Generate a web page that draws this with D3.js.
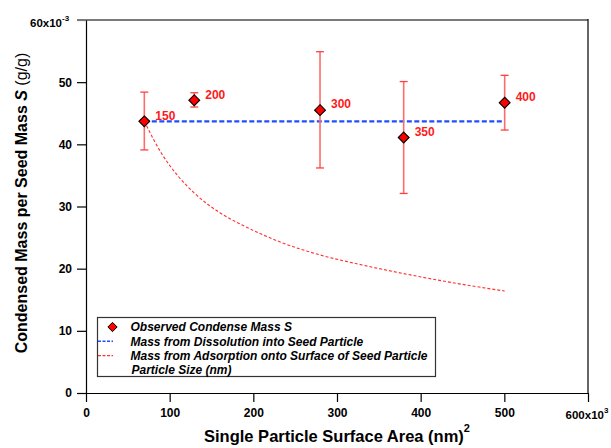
<!DOCTYPE html>
<html>
<head>
<meta charset="utf-8">
<script src="https://cdn.jsdelivr.net/npm/d3@7"></script>
<style>
  html, body { margin: 0; padding: 0; background: #fff; }
  svg { display: block; font-family: "Liberation Sans", Arial, Helvetica, sans-serif; }
</style>
</head>
<body>
<svg id="chart" width="611" height="448"></svg>
<script>
// Seed particle sizes (nm) and single-particle surface area (x10^3 nm^2)
const particleSizes = [150, 200, 300, 350, 400];
const surfaceArea   = [69.7, 129.4, 279.7, 379.7, 500.4];

// Observed condensed mass per seed mass S (x10^-3 g/g) with error bar limits
const observedMass = [43.7, 47.1, 45.5, 41.1, 46.7];
const errorLow     = [39.1, 46.0, 36.2, 32.1, 42.3];
const errorHigh    = [48.4, 48.3, 54.9, 50.1, 51.1];

// Dissolution model: constant mass per seed mass
const dissolutionArea = [69.7, 500.4];
const dissolutionMass = [43.7, 43.7];

// Adsorption model: mass scales with surface-to-volume ratio
const adsorptionArea = [69.7, 90, 110, 130, 160, 190, 230, 280, 330, 380, 440, 500.4];
const adsorptionMass = [43.7, 38.6, 34.9, 32.1, 29.0, 26.8, 24.4, 22.2, 20.6, 19.2, 17.7, 16.4];

// Axis ticks
const xTicks = [0, 100, 200, 300, 400, 500, 600];
const yTicks = [0, 10, 20, 30, 40, 50, 60];

const legendLabels = [
  "Observed Condense Mass S",
  "Mass from Dissolution into Seed Particle",
  "Mass from Adsorption onto Surface of Seed Particle",
  "Particle Size (nm)"
];

const svg = d3.select("#chart");

const x = d3.scaleLinear().domain([0, 600]).range([86, 588]);
const y = d3.scaleLinear().domain([0, 60]).range([393, 20]);

// Frame: grey top edge, black right edge
svg.append("line")
  .attr("x1", 77).attr("x2", x(600)).attr("y1", y(60)).attr("y2", y(60))
  .attr("stroke", "#7a7a7a").attr("stroke-width", 2);
svg.append("line")
  .attr("x1", x(600)).attr("x2", x(600)).attr("y1", y(60) - 1).attr("y2", y(0))
  .attr("stroke", "#000").attr("stroke-width", 1.2);

// X axis
const xAxis = svg.append("g")
  .attr("transform", `translate(0,${y(0)})`)
  .call(d3.axisBottom(x).tickValues(xTicks).tickSize(9).tickPadding(6).tickSizeOuter(0)
    .tickFormat(d => d === 600 ? "" : d));
xAxis.select(".domain").attr("stroke", "#000").attr("stroke-width", 1.2);
xAxis.selectAll(".tick line").attr("stroke", "#000").attr("stroke-width", 1.2);
xAxis.selectAll(".tick text")
  .attr("font-size", 12).attr("font-weight", "bold").attr("fill", "#000").attr("font-family", null);

// "600x10^3" end label
const xEnd = svg.append("text")
  .attr("x", x(600) - 1).attr("y", 418.5)
  .attr("text-anchor", "middle")
  .attr("font-size", 11.5).attr("font-weight", "bold");
xEnd.append("tspan").text("600x10");
xEnd.append("tspan").attr("dy", -6).attr("font-size", 8).text("3");

// Y axis
const yAxis = svg.append("g")
  .attr("transform", `translate(${x(0)},0)`)
  .call(d3.axisLeft(y).tickValues(yTicks).tickSize(9).tickPadding(5).tickSizeOuter(0)
    .tickFormat(d => d === 60 ? "" : d));
yAxis.select(".domain").attr("stroke", "#000").attr("stroke-width", 1.2);
yAxis.selectAll(".tick line").attr("stroke", "#000").attr("stroke-width", 1.2);
yAxis.selectAll(".tick").filter(d => d === 60).select("line").attr("stroke", "#7a7a7a");
yAxis.selectAll(".tick text")
  .attr("font-size", 12).attr("font-weight", "bold").attr("fill", "#000").attr("font-family", null);

// "60x10^-3" end label
const yEnd = svg.append("text")
  .attr("x", 30).attr("y", y(60) + 6.5)
  .attr("font-size", 11.5).attr("font-weight", "bold");
yEnd.append("tspan").text("60x10");
yEnd.append("tspan").attr("dy", -6).attr("font-size", 8).text("-3");

// Axis titles
const xTitle = svg.append("text")
  .attr("x", 337).attr("y", 441.5)
  .attr("text-anchor", "middle")
  .attr("font-size", 16.5).attr("font-weight", "bold");
xTitle.append("tspan").text("Single Particle Surface Area (nm)");
xTitle.append("tspan").attr("dy", -10).attr("font-size", 11).text("2");

const yTitle = svg.append("text")
  .attr("transform", "translate(27,203) rotate(-90)")
  .attr("text-anchor", "middle")
  .attr("font-size", 16).attr("font-weight", "bold");
yTitle.append("tspan").text("Condensed Mass per Seed Mass ");
yTitle.append("tspan").attr("font-style", "italic").text("S");
yTitle.append("tspan").attr("font-weight", "normal").text(" (g/g)");

// Adsorption model curve
const curve = d3.line().x(d => x(d[0])).y(d => y(d[1])).curve(d3.curveMonotoneX);
svg.append("path")
  .datum(d3.zip(adsorptionArea, adsorptionMass))
  .attr("d", curve)
  .attr("fill", "none")
  .attr("stroke", "#ff3030").attr("stroke-width", 1.1)
  .attr("stroke-dasharray", "3,2");

// Dissolution model line
svg.append("path")
  .datum(d3.zip(dissolutionArea, dissolutionMass))
  .attr("d", d3.line().x(d => x(d[0])).y(d => y(d[1])))
  .attr("fill", "none")
  .attr("stroke", "#1f4dff").attr("stroke-width", 2.2)
  .attr("stroke-dasharray", "5,2.5");

// Error bars
const obs = particleSizes.map((s, i) => ({
  size: s, area: surfaceArea[i], mass: observedMass[i], lo: errorLow[i], hi: errorHigh[i]
}));

const eb = svg.append("g");
eb.selectAll(".stem").data(obs).join("line")
  .attr("x1", d => x(d.area)).attr("x2", d => x(d.area))
  .attr("y1", d => y(d.hi)).attr("y2", d => y(d.lo))
  .attr("stroke", "#ff6b6b").attr("stroke-width", 1.6);
eb.selectAll(".capHi").data(obs).join("line")
  .attr("x1", d => x(d.area) - 4).attr("x2", d => x(d.area) + 4)
  .attr("y1", d => y(d.hi)).attr("y2", d => y(d.hi))
  .attr("stroke", "#ff4040").attr("stroke-width", 1.3);
eb.selectAll(".capLo").data(obs).join("line")
  .attr("x1", d => x(d.area) - 4).attr("x2", d => x(d.area) + 4)
  .attr("y1", d => y(d.lo)).attr("y2", d => y(d.lo))
  .attr("stroke", "#ff4040").attr("stroke-width", 1.3);

// Observed points
const diamond = d3.symbol().type(d3.symbolDiamond2).size(75);
svg.append("g").selectAll("path").data(obs).join("path")
  .attr("transform", d => `translate(${x(d.area)},${y(d.mass)})`)
  .attr("d", diamond)
  .attr("fill", "#ff0000").attr("stroke", "#000").attr("stroke-width", 1.1);

// Particle size labels
svg.append("g").selectAll("text").data(obs).join("text")
  .attr("x", d => x(d.area) + 11)
  .attr("y", d => y(d.mass) - 6)
  .attr("dy", "0.36em")
  .attr("font-size", 12).attr("font-weight", "bold").attr("fill", "#ff1a1a")
  .text(d => d.size);

// Legend
const lg = svg.append("g");
lg.append("rect")
  .attr("x", 97.5).attr("y", 317.5).attr("width", 338).attr("height", 59)
  .attr("fill", "#fff").attr("stroke", "#333").attr("stroke-width", 1.2);

const rowY = [327, 341.3, 355.6, 370];
lg.append("path")
  .attr("transform", `translate(112.5,${rowY[0]})`)
  .attr("d", d3.symbol().type(d3.symbolDiamond2).size(55))
  .attr("fill", "#ff0000").attr("stroke", "#000").attr("stroke-width", 1);
lg.append("line")
  .attr("x1", 98).attr("x2", 113).attr("y1", rowY[1]).attr("y2", rowY[1])
  .attr("stroke", "#1f4dff").attr("stroke-width", 1.5).attr("stroke-dasharray", "3,1.5");
lg.append("line")
  .attr("x1", 98).attr("x2", 113).attr("y1", rowY[2]).attr("y2", rowY[2])
  .attr("stroke", "#ff3030").attr("stroke-width", 1.2).attr("stroke-dasharray", "3,1.5");

lg.selectAll(".lt").data(legendLabels).join("text")
  .attr("x", (d, i) => i === 3 ? 131.5 : 130.5)
  .attr("y", (d, i) => rowY[i])
  .attr("dy", "0.36em")
  .attr("font-size", 12).attr("font-weight", "bold").attr("font-style", "italic")
  .attr("fill", "#000")
  .text(d => d);
</script>
</body>
</html>
